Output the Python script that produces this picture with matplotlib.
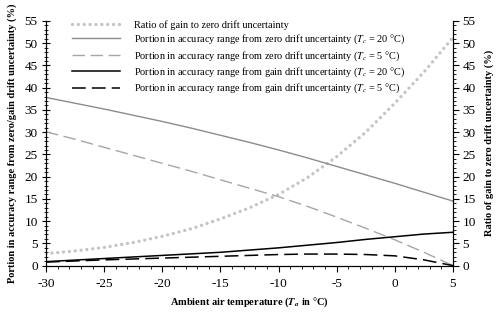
import matplotlib
matplotlib.use('Agg')
import matplotlib.pyplot as plt
from matplotlib.ticker import MultipleLocator

plt.rcParams['font.family'] = 'Liberation Serif'
plt.rcParams['mathtext.fontset'] = 'stix'
plt.rcParams['axes.unicode_minus'] = False

# ambient air temperature (deg C)
temp = [-30, -27.5, -25, -22.5, -20, -17.5, -15, -12.5, -10, -7.5, -5, -2.5, 0, 2.5, 5]

ratio_gain_zero = [2.7, 3.3, 4.1, 5.2, 6.6, 8.3, 10.5, 13.0, 16.0, 19.8, 24.5, 30.0, 36.5, 43.5, 51.3]
zero_tc20 = [37.8, 36.5, 35.2, 33.8, 32.4, 30.9, 29.3, 27.7, 26.0, 24.2, 22.3, 20.4, 18.5, 16.5, 14.5]
zero_tc5 = [30.1, 28.4, 26.6, 24.8, 23.0, 21.2, 19.3, 17.4, 15.5, 13.3, 10.9, 8.4, 5.8, 3.0, 0.0]
gain_tc20 = [0.9, 1.25, 1.6, 1.95, 2.3, 2.65, 3.0, 3.5, 4.0, 4.6, 5.2, 5.9, 6.5, 7.1, 7.5]
gain_tc5 = [0.8, 1.05, 1.3, 1.5, 1.7, 1.9, 2.1, 2.3, 2.5, 2.6, 2.6, 2.5, 2.2, 1.3, 0.0]

labels = [
    'Ratio of gain to zero drift uncertainty',
    r'Portion in accuracy range from zero drift uncertainty ($T_c$ = 20 °C)',
    r'Portion in accuracy range from zero drift uncertainty ($T_c$ = 5 °C)',
    r'Portion in accuracy range from gain drift uncertainty ($T_c$ = 20 °C)',
    r'Portion in accuracy range from gain drift uncertainty ($T_c$ = 5 °C)',
]

fig = plt.figure(figsize=(5, 3.17), dpi=100)
ax = fig.add_axes([0.092, 0.162, 0.814, 0.772])

ax.plot(temp, ratio_gain_zero, color='#c4c4c4', lw=2.4, linestyle=(0, (0.01, 1.75)),
        dash_capstyle='round', label=labels[0])
ax.plot(temp, zero_tc20, color='#8c8c8c', lw=1.0, label=labels[1])
ax.plot(temp, zero_tc5, color='#a6a6a6', lw=1.0, linestyle=(0, (9, 4)), label=labels[2])
ax.plot(temp, gain_tc20, color='black', lw=1.1, label=labels[3])
ax.plot(temp, gain_tc5, color='black', lw=1.1, linestyle=(0, (9, 4)), label=labels[4])

ax.set_xlim(-30, 5)
ax.set_ylim(0, 55)
ax.xaxis.set_major_locator(MultipleLocator(5))
ax.xaxis.set_minor_locator(MultipleLocator(1))
ax.yaxis.set_major_locator(MultipleLocator(5))
ax.yaxis.set_minor_locator(MultipleLocator(1))
ax.spines['top'].set_visible(False)
ax.tick_params(axis='x', which='major', direction='out', length=4, labelsize=9.5, pad=5)
ax.tick_params(axis='x', which='minor', direction='out', length=2)
ax.tick_params(axis='y', which='major', direction='inout', length=6, labelsize=9.5, pad=3)
ax.tick_params(axis='y', which='minor', direction='inout', length=3)

ax2 = ax.twinx()
ax2.set_ylim(0, 55)
ax2.yaxis.set_major_locator(MultipleLocator(5))
ax2.yaxis.set_minor_locator(MultipleLocator(1))
ax2.spines['top'].set_visible(False)
ax2.tick_params(axis='y', which='major', direction='out', length=4, labelsize=9.5, pad=3)
ax2.tick_params(axis='y', which='minor', direction='out', length=2)

ax.set_xlabel(r'Ambient air temperature ($\mathbfit{T}_{\mathbfit{a}}$ in °C)',
              fontsize=7.5, fontweight='bold', labelpad=4)
ax.set_ylabel('Portion in accuracy range from zero/gain drift uncertainty (%)',
              fontsize=7.5, fontweight='bold', labelpad=5)
ax2.set_ylabel('Ratio of gain to zero drift uncertainty (%)',
               fontsize=7.5, fontweight='bold', labelpad=6)

ax.legend(loc='upper left', bbox_to_anchor=(0.055, 1.02), frameon=False, fontsize=7.4,
          handlelength=4.6, handletextpad=1.4, labelspacing=0.28, borderaxespad=0)

fig.savefig('out.png', dpi=100)
